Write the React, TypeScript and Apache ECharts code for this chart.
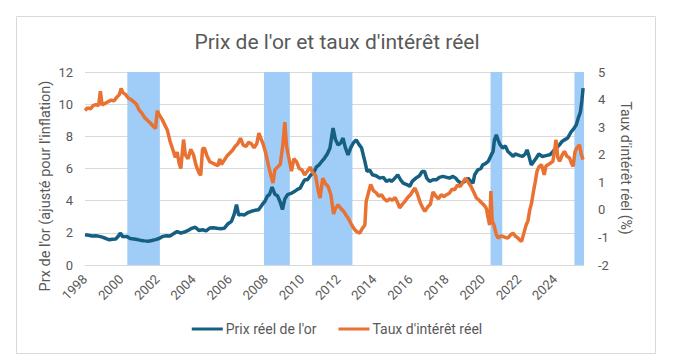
import React, { useEffect, useRef } from "react";
import * as echarts from "echarts";

// Decimal-year positions and values
const goldX = [
  1998.0, 1998.2, 1998.4, 1998.6, 1998.8, 1999.0, 1999.2, 1999.35, 1999.5, 1999.7, 1999.85, 1999.95,
  2000.1, 2000.3, 2000.5, 2000.7, 2000.9, 2001.1, 2001.3, 2001.5, 2001.7, 2001.9, 2002.1, 2002.3,
  2002.5, 2002.7, 2002.9, 2003.1, 2003.3, 2003.5, 2003.7, 2003.9, 2004.1, 2004.3, 2004.5, 2004.7,
  2004.9, 2005.1, 2005.3, 2005.5, 2005.7, 2005.9, 2006.1, 2006.25, 2006.38, 2006.5, 2006.65, 2006.8,
  2007.0, 2007.2, 2007.4, 2007.6, 2007.8, 2007.95, 2008.1, 2008.2, 2008.35, 2008.5, 2008.65, 2008.8,
  2008.92, 2009.05, 2009.2, 2009.4, 2009.6, 2009.75, 2009.9, 2010.0, 2010.15, 2010.3, 2010.5, 2010.65,
  2010.8, 2010.95, 2011.1, 2011.25, 2011.4, 2011.55, 2011.65, 2011.72, 2011.85, 2012.0, 2012.15, 2012.27,
  2012.4, 2012.55, 2012.7, 2012.85, 2013.0, 2013.15, 2013.3, 2013.4, 2013.48, 2013.6, 2013.75, 2013.9,
  2014.1, 2014.3, 2014.5, 2014.67, 2014.85, 2014.95, 2015.1, 2015.3, 2015.45, 2015.6, 2015.8, 2015.96,
  2016.1, 2016.3, 2016.5, 2016.65, 2016.78, 2016.9, 2017.06, 2017.25, 2017.43, 2017.6, 2017.8, 2018.0,
  2018.16, 2018.35, 2018.5, 2018.65, 2018.81, 2019.0, 2019.18, 2019.35, 2019.46, 2019.55, 2019.73, 2019.9,
  2020.0, 2020.15, 2020.3, 2020.45, 2020.57, 2020.65, 2020.75, 2020.84, 2020.95, 2021.1, 2021.25, 2021.39,
  2021.55, 2021.67, 2021.8, 2021.94, 2022.05, 2022.2, 2022.35, 2022.45, 2022.55, 2022.68, 2022.8, 2022.96,
  2023.1, 2023.3, 2023.5, 2023.7, 2023.85, 2023.96, 2024.1, 2024.24, 2024.4, 2024.52, 2024.7, 2024.9,
  2025.05, 2025.17, 2025.3, 2025.4, 2025.48, 2025.55,
];
const goldY = [
  1.88, 1.85, 1.8, 1.82, 1.78, 1.72, 1.62, 1.57, 1.6, 1.62, 1.8, 1.98,
  1.75, 1.78, 1.65, 1.62, 1.58, 1.53, 1.5, 1.48, 1.52, 1.58, 1.65, 1.78,
  1.82, 1.8, 1.95, 2.08, 1.98, 2.05, 2.15, 2.28, 2.35, 2.15, 2.19, 2.12,
  2.3, 2.32, 2.28, 2.25, 2.28, 2.55, 2.71, 3.15, 3.75, 3.1, 3.15, 3.1,
  3.25, 3.34, 3.4, 3.44, 3.75, 3.96, 4.3, 4.37, 4.85, 4.4, 4.3, 3.9,
  3.45, 4.1, 4.37, 4.45, 4.58, 4.7, 4.78, 5.0, 5.3, 5.3, 5.61, 5.75,
  6.1, 6.23, 6.45, 6.65, 6.9, 7.27, 8.0, 8.51, 7.8, 7.47, 7.6, 7.89,
  7.3, 6.85, 7.3, 7.6, 7.78, 7.5, 7.27, 6.8, 6.44, 5.82, 5.9, 5.61,
  5.55, 5.4, 5.45, 5.2, 5.3, 5.2, 5.35, 5.61, 5.3, 5.09, 5.0, 4.89,
  5.2, 5.4, 5.55, 5.82, 5.82, 5.4, 5.2, 5.3, 5.3, 5.45, 5.51, 5.45,
  5.4, 5.51, 5.4, 5.2, 5.09, 5.2, 5.4, 5.2, 5.09, 5.6, 5.92, 6.0,
  6.23, 6.3, 6.44, 6.8, 7.06, 7.8, 8.09, 7.8, 7.5, 7.27, 7.4, 7.06,
  6.9, 6.75, 6.9, 6.85, 6.8, 6.75, 6.9, 7.16, 6.8, 6.23, 6.4, 6.65,
  6.9, 6.75, 6.8, 6.85, 7.0, 7.16, 7.3, 7.47, 7.7, 7.78, 7.9, 8.3,
  8.5, 8.71, 9.2, 9.5, 10.2, 11.0,
];

const rateX = [
  1998.0, 1998.15, 1998.3, 1998.45, 1998.6, 1998.75, 1998.85, 1998.95, 1999.1, 1999.3, 1999.45, 1999.6,
  1999.75, 1999.9, 2000.0, 2000.1, 2000.25, 2000.4, 2000.55, 2000.7, 2000.85, 2001.0, 2001.15, 2001.3,
  2001.45, 2001.6, 2001.75, 2001.9, 2002.0, 2002.1, 2002.25, 2002.4, 2002.55, 2002.7, 2002.85, 2003.0,
  2003.1, 2003.2, 2003.3, 2003.45, 2003.55, 2003.7, 2003.85, 2004.0, 2004.15, 2004.3, 2004.4, 2004.5,
  2004.6, 2004.75, 2004.9, 2005.05, 2005.2, 2005.35, 2005.45, 2005.55, 2005.7, 2005.85, 2006.0, 2006.15,
  2006.3, 2006.45, 2006.6, 2006.75, 2006.9, 2007.05, 2007.2, 2007.35, 2007.5, 2007.62, 2007.75, 2007.85,
  2008.0, 2008.15, 2008.3, 2008.4, 2008.5, 2008.65, 2008.8, 2008.95, 2009.05, 2009.15, 2009.3, 2009.42,
  2009.55, 2009.7, 2009.85, 2010.0, 2010.15, 2010.3, 2010.45, 2010.6, 2010.75, 2010.9, 2011.0, 2011.15,
  2011.3, 2011.45, 2011.6, 2011.75, 2011.85, 2012.0, 2012.15, 2012.3, 2012.45, 2012.6, 2012.75, 2012.9,
  2013.05, 2013.2, 2013.35, 2013.48, 2013.55, 2013.65, 2013.8, 2013.95, 2014.1, 2014.25, 2014.4, 2014.55,
  2014.7, 2014.85, 2015.0, 2015.15, 2015.3, 2015.4, 2015.55, 2015.7, 2015.85, 2016.0, 2016.15, 2016.25,
  2016.4, 2016.55, 2016.7, 2016.8, 2016.95, 2017.1, 2017.25, 2017.4, 2017.55, 2017.7, 2017.85, 2018.0,
  2018.15, 2018.3, 2018.45, 2018.6, 2018.75, 2018.9, 2019.05, 2019.2, 2019.35, 2019.5, 2019.65, 2019.8,
  2019.95, 2020.1, 2020.2, 2020.3, 2020.38, 2020.45, 2020.52, 2020.62, 2020.75, 2020.85, 2021.0, 2021.1,
  2021.25, 2021.4, 2021.55, 2021.67, 2021.8, 2021.94, 2022.05, 2022.15, 2022.3, 2022.4, 2022.5, 2022.6,
  2022.7, 2022.8, 2022.9, 2023.0, 2023.1, 2023.25, 2023.4, 2023.5, 2023.62, 2023.75, 2023.88, 2024.0,
  2024.05, 2024.15, 2024.25, 2024.4, 2024.52, 2024.65, 2024.8, 2024.9, 2025.0, 2025.1, 2025.2, 2025.35,
  2025.45, 2025.55,
];
const rateY = [
  3.6, 3.7, 3.66, 3.78, 3.82, 3.78, 4.3, 3.8, 3.86, 3.93, 3.98, 3.95,
  4.08, 4.18, 4.4, 4.25, 4.18, 4.05, 4.0, 3.92, 3.82, 3.62, 3.5, 3.35,
  3.25, 3.16, 3.05, 2.95, 3.6, 3.45, 3.3, 3.1, 2.9, 2.5, 2.2, 1.9,
  2.1, 1.7, 1.5, 2.55, 2.0, 1.85, 2.2, 2.0, 1.6, 1.35, 1.25, 2.2,
  2.25, 1.95, 1.75, 1.7, 1.65, 1.6, 1.85, 1.65, 1.8, 1.95, 2.05, 2.15,
  2.3, 2.4, 2.6, 2.35, 2.3, 2.45, 2.4, 2.25, 2.4, 2.78, 2.55, 2.4,
  2.05, 1.6, 1.2, 0.97, 1.45, 1.55, 1.65, 2.4, 3.18, 2.3, 1.8, 1.4,
  1.85, 1.75, 1.5, 1.45, 1.27, 1.4, 1.55, 1.35, 1.25, 0.7, 0.43, 1.15,
  0.95, 0.85, 0.55, -0.15, 0.05, 0.18, 0.05, -0.05, -0.2, -0.35, -0.55, -0.7,
  -0.8, -0.84, -0.66, -0.55, 0.3, 0.55, 0.92, 0.7, 0.62, 0.5, 0.55, 0.4,
  0.31, 0.4, 0.35, 0.45, 0.25, 0.07, 0.2, 0.31, 0.45, 0.55, 0.7, 0.79,
  0.55, 0.25, 0.05, -0.05, 0.1, 0.2, 0.65, 0.5, 0.4, 0.55, 0.48, 0.55,
  0.6, 0.75, 0.73, 0.9, 0.85, 1.0, 1.15, 1.0, 0.85, 0.65, 0.43, 0.35,
  0.25, 0.15, 0.05, -0.3, -0.55, 0.68, -0.4, -0.55, -0.9, -1.02, -0.95, -0.96,
  -1.0, -1.02, -0.9, -0.84, -0.95, -1.02, -1.1, -1.14, -0.78, -0.55, -0.4, 0.0,
  0.25, 0.65, 1.0, 1.4, 1.55, 1.64, 1.27, 1.6, 1.64, 1.7, 1.76, 2.3,
  2.54, 1.9, 1.76, 2.0, 2.12, 1.95, 1.88, 1.7, 1.58, 2.1, 2.24, 2.36,
  2.0, 1.82,
];

// Shaded periods (start, end) in decimal years
const bandStart = [2000.34, 2007.9, 2010.56, 2020.43, 2025.07];
const bandEnd = [2002.14, 2009.33, 2012.79, 2021.08, 2025.6];

const xTickLabels = ["1998", "2000", "2002", "2004", "2006", "2008", "2010", "2012", "2014", "2016", "2018", "2020", "2022", "2024"];

const TITLE = "Prix de l'or et taux d'intérêt réel";
const LEFT_NAME = "Prx de l'or (ajusté pour l'inflation)";
const RIGHT_NAME = "Taux d'intérêt réel (%)";
const GOLD_NAME = "Prix réel de l'or";
const RATE_NAME = "Taux d'intérêt réel";

const FONT = "Roboto, 'Noto Sans', sans-serif";
const TXT = "#595959";

export default function App() {
  const ref = useRef<HTMLDivElement>(null);
  useEffect(() => {
    document.body.style.margin = "0";
    const chart = echarts.init(ref.current!, null, { renderer: "svg" });
    const gold = goldX.map((x, i) => [x, goldY[i]]);
    const rate = rateX.map((x, i) => [x, rateY[i]]);
    const bands = bandStart.map((s, i) => [{ xAxis: s }, { xAxis: bandEnd[i] }]);
    chart.setOption({
      animation: false,
      textStyle: { fontFamily: FONT },
      title: {
        text: TITLE,
        left: "center",
        top: 26,
        textStyle: { fontSize: 21, fontWeight: "normal", color: TXT, fontFamily: FONT },
      },
      graphic: [
        {
          type: "rect",
          shape: { x: 16.5, y: 16.5, width: 639, height: 337 },
          style: { fill: "none", stroke: "#d9d9d9", lineWidth: 1 },
          z: -10,
          silent: true,
        },
        {
          type: "text",
          x: 45,
          y: 186,
          rotation: Math.PI / 2,
          style: { text: LEFT_NAME, fill: TXT, fontSize: 14.5, fontFamily: FONT, align: "center", verticalAlign: "middle" },
        },
        {
          type: "text",
          x: 626,
          y: 168,
          rotation: -Math.PI / 2,
          style: { text: RIGHT_NAME, fill: TXT, fontSize: 14, fontFamily: FONT, align: "center", verticalAlign: "middle" },
        },
      ],
      legend: {
        data: [GOLD_NAME, RATE_NAME],
        bottom: 20,
        left: "center",
        icon: "rect",
        itemWidth: 31,
        itemHeight: 3,
        itemGap: 22,
        textStyle: { color: TXT, fontSize: 14, fontFamily: FONT, padding: [0, 0, 0, -2] },
      },
      grid: { left: 85, right: 90, top: 72, bottom: 96, containLabel: false },
      xAxis: {
        type: "value",
        min: 1998,
        max: 2025.6,
        interval: 2,
        axisLine: { show: true, lineStyle: { color: "#d9d9d9" } },
        axisTick: { show: false },
        splitLine: { show: false },
        axisLabel: {
          rotate: 45,
          margin: 12,
          color: TXT,
          fontSize: 13,
          fontFamily: FONT,
          showMaxLabel: false,
          formatter: (v: number) => {
            const s = String(Math.round(v));
            return Math.abs(v - Math.round(v)) < 1e-6 && xTickLabels.includes(s) ? s : "";
          },
        },
      },
      yAxis: [
        {
          type: "value",
          min: 0,
          max: 12,
          interval: 2,
          axisLine: { show: false },
          axisTick: { show: false },
          splitLine: { show: true, lineStyle: { color: "#d9d9d9" } },
          axisLabel: { color: TXT, fontSize: 13, margin: 12, fontFamily: FONT },
        },
        {
          type: "value",
          position: "right",
          min: -2,
          max: 5,
          interval: 1,
          axisLine: { show: false },
          axisTick: { show: false },
          splitLine: { show: false },
          axisLabel: { color: TXT, fontSize: 13, margin: 14, fontFamily: FONT },
        },
      ],
      series: [
        {
          name: "bands",
          type: "line",
          data: [],
          z: 1,
          silent: true,
          markArea: {
            silent: true,
            itemStyle: { color: "#9fcdf7", opacity: 1 },
            data: bands,
          },
        },
        {
          name: GOLD_NAME,
          type: "line",
          yAxisIndex: 0,
          data: gold,
          showSymbol: false,
          symbol: "none",
          z: 3,
          lineStyle: { color: "#156082", width: 3.5 },
          itemStyle: { color: "#156082" },
        },
        {
          name: RATE_NAME,
          type: "line",
          yAxisIndex: 1,
          data: rate,
          showSymbol: false,
          symbol: "none",
          z: 4,
          lineStyle: { color: "#E97132", width: 3.5 },
          itemStyle: { color: "#E97132" },
        },
      ],
    });
    return () => chart.dispose();
  }, []);
  return <div ref={ref} style={{ width: 674, height: 361 }} />;
}
